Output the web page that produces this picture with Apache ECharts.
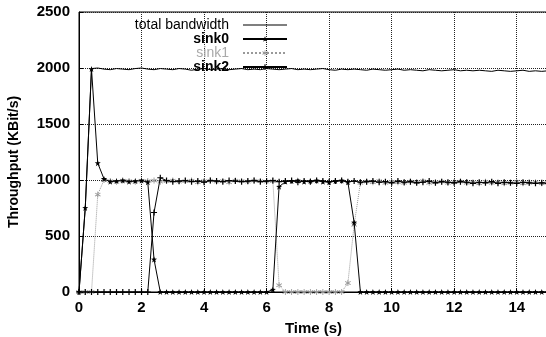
<!DOCTYPE html>
<html>
<head>
<meta charset="utf-8">
<script src="https://cdn.jsdelivr.net/npm/echarts@6/dist/echarts.min.js"></script>
<style>
  html, body { margin: 0; padding: 0; background: #fff; }
  #chart { width: 546px; height: 337px; }
</style>
</head>
<body>
<div id="chart"></div>
<script>
// time samples (s)
const time = [
  0, 0.2, 0.4, 0.6, 0.8, 1.0, 1.2, 1.4, 1.6, 1.8,
  2.0, 2.2, 2.4, 2.6, 2.8, 3.0, 3.2, 3.4, 3.6, 3.8,
  4.0, 4.2, 4.4, 4.6, 4.8, 5.0, 5.2, 5.4, 5.6, 5.8,
  6.0, 6.2, 6.4, 6.6, 6.8, 7.0, 7.2, 7.4, 7.6, 7.8,
  8.0, 8.2, 8.4, 8.6, 8.8, 9.0, 9.2, 9.4, 9.6, 9.8,
  10.0, 10.2, 10.4, 10.6, 10.8, 11.0, 11.2, 11.4, 11.6, 11.8,
  12.0, 12.2, 12.4, 12.6, 12.8, 13.0, 13.2, 13.4, 13.6, 13.8,
  14.0, 14.2, 14.4, 14.6, 14.8, 15.0
];

const totalBandwidth = [
  0, 750, 1995, 2000, 1990, 1985, 1995, 1990, 1985, 1995,
  2000, 1990, 1985, 1995, 1990, 1985, 1995, 1990, 1980, 1990,
  1995, 1985, 1990, 1995, 1985, 1990, 1995, 1985, 1990, 1985,
  1995, 1990, 1985, 1990, 1995, 1985, 1990, 1985, 1990, 1995,
  1985, 1980, 1990, 1985, 1990, 1985, 1980, 1990, 1985, 1980,
  1985, 1990, 1980, 1985, 1980, 1975, 1985, 1980, 1975, 1980,
  1985, 1975, 1980, 1975, 1980, 1975, 1970, 1980, 1975, 1970,
  1975, 1980, 1970, 1975, 1970, 1975
];

const sink0 = [
  0, 750, 1990, 1150, 1010, 985, 990, 995, 985, 990,
  995, 980, 290, 0, 0, 0, 0, 0, 0, 0,
  0, 0, 0, 0, 0, 0, 0, 0, 0, 0,
  0, 20, 940, 985, 990, 995, 985, 990, 995, 985,
  980, 990, 995, 980, 620, 0, 0, 0, 0, 0,
  0, 0, 0, 0, 0, 0, 0, 0, 0, 0,
  0, 0, 0, 0, 0, 0, 0, 0, 0, 0,
  0, 0, 0, 0, 0, 0
];

const sink1 = [
  0, 0, 0, 870, 1000, 990, 985, 995, 990, 985,
  995, 990, 995, 985, 990, 995, 985, 990, 995, 980,
  990, 995, 985, 990, 980, 995, 990, 985, 995, 990,
  985, 990, 60, 0, 0, 0, 0, 0, 0, 0,
  0, 0, 0, 80, 600, 975, 985, 980, 990, 975,
  985, 980, 975, 985, 980, 990, 975, 980, 985, 975,
  980, 985, 975, 980, 970, 985, 975, 980, 970, 975,
  985, 970, 975, 980, 970, 975
];

const sink2 = [
  0, 0, 0, 0, 0, 0, 0, 0, 0, 0,
  0, 0, 710, 1020, 995, 985, 990, 995, 985, 990,
  980, 995, 990, 985, 995, 990, 985, 990, 995, 985,
  990, 995, 985, 990, 995, 980, 990, 985, 995, 990,
  985, 990, 995, 985, 990, 980, 985, 990, 980, 985,
  975, 990, 980, 985, 975, 980, 990, 975, 985, 980,
  975, 985, 980, 970, 980, 975, 985, 970, 980, 975,
  970, 980, 975, 970, 975, 970
];

const xTicks = [0, 2, 4, 6, 8, 10, 12, 14];
const yTicks = [0, 500, 1000, 1500, 2000, 2500];

function pairs(vals) {
  return time.map((t, i) => [t, vals[i]]);
}

const starPath = 'path://M5,0L6.2,3.4L10,3.6L7,6L8.1,10L5,7.7L1.9,10L3,6L0,3.6L3.8,3.4Z';
const plusPath = 'path://M4,0H6V4H10V6H6V10H4V6H0V4H4Z';
const asteriskPath = 'path://M4.3,0H5.7V3.6L9,1.8L9.7,3L6.4,5L9.7,7L9,8.2L5.7,6.4V10H4.3V6.4L1,8.2L0.3,7L3.6,5L0.3,3L1,1.8L4.3,3.6Z';
const plainLine = 'path://M0,4.5H44V5.5H0Z';

const font = '"Liberation Sans", Arial, sans-serif';

const chart = echarts.init(document.getElementById('chart'));

const option = {
  animation: false,
  backgroundColor: '#fff',
  grid: {
    left: 79,
    right: -2,
    top: 12,
    bottom: 45,
    outerBoundsMode: 'none',
    show: true,
    borderColor: '#000',
    borderWidth: 1
  },
  legend: {
    orient: 'vertical',
    align: 'right',
    right: 253,
    top: 13,
    itemWidth: 44,
    itemHeight: 7,
    itemGap: 0,
    textStyle: { fontFamily: font, fontSize: 14, color: '#000', padding: [0, 9, 0, 0] },
    data: [
      { name: 'total bandwidth', icon: plainLine },
      { name: 'sink0', textStyle: { fontWeight: 'bold' } },
      { name: 'sink1', textStyle: { color: '#aaa' } },
      { name: 'sink2', textStyle: { fontWeight: 'bold' } }
    ]
  },
  xAxis: {
    type: 'value',
    min: 0,
    max: 15,
    interval: 2,
    name: 'Time (s)',
    nameLocation: 'middle',
    nameGap: 29,
    nameTextStyle: { fontFamily: font, fontSize: 15, fontWeight: 'bold', color: '#000' },
    axisLine: { show: true, lineStyle: { color: '#000', width: 1 } },
    axisTick: { show: true, inside: true, length: 4, lineStyle: { color: '#000' } },
    axisLabel: {
      fontFamily: font, fontSize: 15, fontWeight: 'bold', color: '#000', margin: 8,
      formatter: v => (xTicks.indexOf(v) >= 0 ? String(v) : '')
    },
    splitLine: { show: true, lineStyle: { type: 'dotted', color: '#222', width: 1 } }
  },
  yAxis: {
    type: 'value',
    min: 0,
    max: 2500,
    interval: 500,
    name: 'Throughput (KBit/s)',
    nameLocation: 'middle',
    nameGap: 58,
    nameTextStyle: { fontFamily: font, fontSize: 14, fontWeight: 'bold', color: '#000', padding: [0, 20, 0, 0] },
    axisLine: { show: true, lineStyle: { color: '#000', width: 1 } },
    axisTick: { show: true, inside: true, length: 4, lineStyle: { color: '#000' } },
    axisLabel: {
      fontFamily: font, fontSize: 15, fontWeight: 'bold', color: '#000', margin: 9,
      formatter: v => (yTicks.indexOf(v) >= 0 ? String(v) : '')
    },
    splitLine: { show: true, lineStyle: { type: 'dotted', color: '#222', width: 1 } }
  },
  series: [
    {
      name: 'total bandwidth',
      type: 'line',
      data: pairs(totalBandwidth),
      showSymbol: false,
      symbol: 'none',
      lineStyle: { color: '#000', width: 1 },
      itemStyle: { color: '#000' },
      z: 5
    },
    {
      name: 'sink0',
      type: 'line',
      data: pairs(sink0),
      symbol: starPath,
      symbolSize: 6,
      lineStyle: { color: '#000', width: 1 },
      itemStyle: { color: '#000' },
      z: 4
    },
    {
      name: 'sink1',
      type: 'line',
      data: pairs(sink1),
      symbol: asteriskPath,
      symbolSize: 6,
      lineStyle: { color: '#999', width: 1, type: 'dotted' },
      itemStyle: { color: '#999' },
      z: 3
    },
    {
      name: 'sink2',
      type: 'line',
      data: pairs(sink2),
      symbol: plusPath,
      symbolSize: 6,
      lineStyle: { color: '#000', width: 1 },
      itemStyle: { color: '#000' },
      z: 4
    }
  ]
};

chart.setOption(option);
</script>
</body>
</html>
